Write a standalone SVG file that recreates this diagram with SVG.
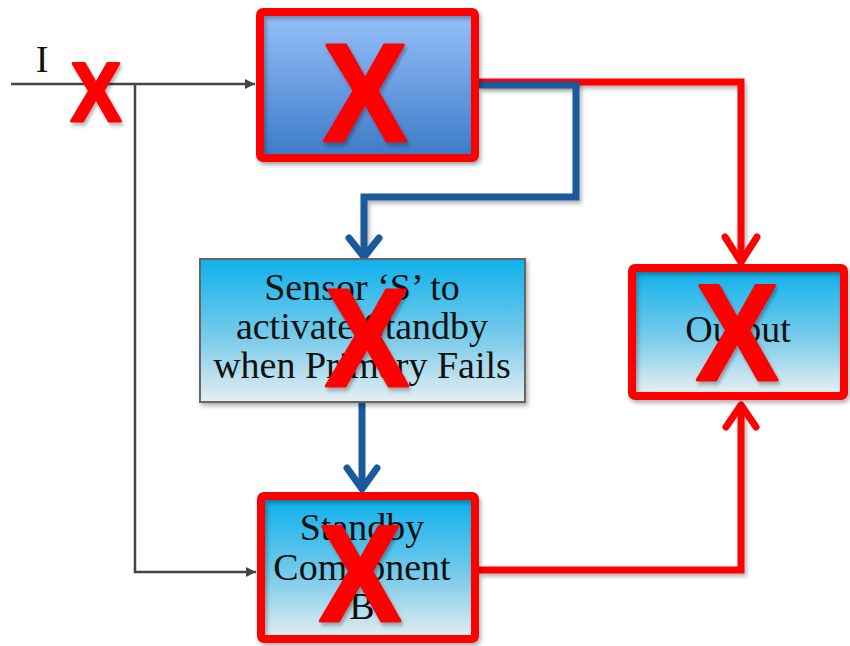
<svg xmlns="http://www.w3.org/2000/svg" width="850" height="646" viewBox="0 0 850 646">
  <defs>
    <linearGradient id="gPrimary" x1="0" y1="0" x2="0" y2="1">
      <stop offset="0" stop-color="#98c1fb"/>
      <stop offset="1" stop-color="#3c7ac7"/>
    </linearGradient>
    <linearGradient id="gCyan" x1="0" y1="0" x2="0" y2="1">
      <stop offset="0" stop-color="#0fb1ec"/>
      <stop offset="0.55" stop-color="#79cbea"/>
      <stop offset="1" stop-color="#e6eef1"/>
    </linearGradient>
    <filter id="shadow" x="-20%" y="-20%" width="140%" height="140%">
      <feDropShadow dx="2" dy="3" stdDeviation="2" flood-color="#000" flood-opacity="0.3"/>
    </filter>
    <marker id="arrowGrey" viewBox="0 0 10 10" refX="10" refY="5" markerWidth="10" markerHeight="10" markerUnits="userSpaceOnUse" orient="auto">
      <path d="M0,0 L10,5 L0,10 Z" fill="#444"/>
    </marker>
    <style>
      .grey { fill: none; stroke: #444; stroke-width: 2.5; }
      .blue { fill: none; stroke: #1a5a9c; stroke-width: 7; stroke-linejoin: miter; }
      .red  { fill: none; stroke: #ff0000; stroke-width: 7; stroke-linejoin: miter; }
      .chevBlue { fill: none; stroke: #1a5a9c; stroke-width: 7; stroke-linecap: round; stroke-linejoin: round; }
      .chevRed  { fill: none; stroke: #ff0000; stroke-width: 7; stroke-linecap: round; stroke-linejoin: round; }
      .frame { fill: none; stroke: #ff0000; stroke-width: 8; stroke-linejoin: round; }
      .label { font-family: "Liberation Serif", "Times New Roman", serif; font-size: 38px; fill: #111; text-anchor: middle; }
      .cross { font-family: "Liberation Sans", Arial, sans-serif; font-weight: bold; fill: #ff0000; stroke: #ff0000; stroke-width: 3; stroke-linejoin: round; text-anchor: middle; }
    </style>
  </defs>

  <rect width="850" height="646" fill="#ffffff"/>

  <!-- connectors -->
  <g id="connectors">
    <!-- input line and branch to standby -->
    <path class="grey" d="M11,84 H255" marker-end="url(#arrowGrey)"/>
    <path class="grey" d="M135,84 V572 H256" marker-end="url(#arrowGrey)"/>
    <!-- primary output to the output block -->
    <path class="red" d="M479,82 H741 V260" filter="url(#shadow)"/>
    <path class="chevRed" d="M725,237 L741,262 L757,237"/>
    <!-- primary to sensor -->
    <path class="blue" d="M479,85 H576 V197 H364 V254" filter="url(#shadow)"/>
    <path class="chevBlue" d="M349,238 L364,257 L379,238"/>
    <!-- sensor to standby -->
    <path class="blue" d="M362,402 V488"/>
    <path class="chevBlue" d="M347,468 L362,489 L377,468"/>
    <!-- standby to output -->
    <path class="red" d="M479,570 H741 V406" filter="url(#shadow)"/>
    <path class="chevRed" d="M726,427 L741,405 L756,427"/>
  </g>

  <!-- input label -->
  <g id="input">
    <text class="label" x="42" y="72">I</text>
    <text class="cross" font-size="84" transform="translate(96,121) scale(0.9,1)" filter="url(#shadow)">X</text>
  </g>

  <!-- primary component -->
  <g id="primary">
    <rect x="260" y="12" width="215" height="146" fill="url(#gPrimary)" filter="url(#shadow)"/>
    <rect class="frame" x="260" y="12" width="215" height="146" rx="3" filter="url(#shadow)"/>
    <text class="cross" font-size="140" transform="translate(365,141) scale(0.9,1)" filter="url(#shadow)">X</text>
  </g>

  <!-- sensor block -->
  <g id="sensor">
    <rect x="200" y="259" width="325" height="143" fill="url(#gCyan)" stroke="#666" stroke-width="2" filter="url(#shadow)"/>
    <text class="label" x="362" y="300">Sensor ‘S’ to</text>
    <text class="label" x="362" y="339">activate Standby</text>
    <text class="label" x="362" y="378">when Primary Fails</text>
    <text class="cross" font-size="140" transform="translate(367,386) scale(0.9,1)" filter="url(#shadow)">X</text>
  </g>

  <!-- output block -->
  <g id="output">
    <rect x="636" y="270" width="206" height="123" fill="url(#gCyan)"/>
    <rect class="frame" x="632" y="268" width="212" height="128" rx="3" stroke-width="9" filter="url(#shadow)"/>
    <text class="label" x="738" y="342">Output</text>
    <text class="cross" font-size="137" transform="translate(737,380) scale(0.9,1)" filter="url(#shadow)">X</text>
  </g>

  <!-- standby component -->
  <g id="standby">
    <rect x="262" y="500" width="210" height="139" fill="url(#gCyan)"/>
    <rect class="frame" x="261" y="496" width="214" height="143" rx="3" filter="url(#shadow)"/>
    <text class="label" x="362" y="540">Standby</text>
    <text class="label" x="362" y="580">Component</text>
    <text class="label" x="362" y="619">B</text>
    <text class="cross" font-size="137" transform="translate(360,621) scale(0.9,1)" filter="url(#shadow)">X</text>
  </g>
</svg>
